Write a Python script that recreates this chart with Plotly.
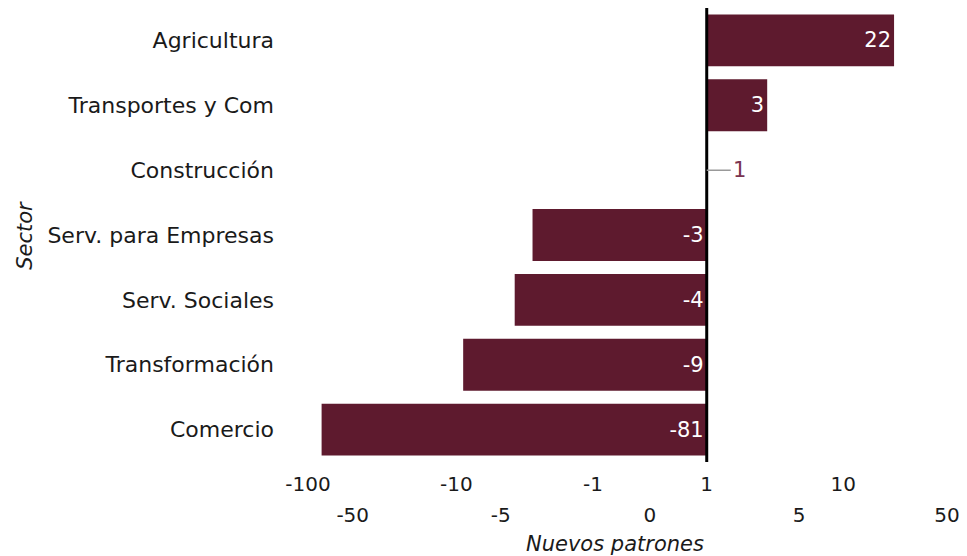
import numpy as np
import plotly.graph_objects as go

sectores = ["Agricultura", "Transportes y Com", "Construcción", "Serv. para Empresas",
            "Serv. Sociales", "Transformación", "Comercio"]
valores = [22, 3, 1, -3, -4, -9, -81]
base_val = 1
ticks_top = [-100, -10, -1, 1, 10]
ticks_bottom = [-50, -5, 0, 5, 50]
rango = [-100, 50]

def f(v):
    return np.arcsinh(np.asarray(v, dtype=float))

BAR = "#5E1A2E"
FONT = "DejaVu Sans"
TXT = "#1A1A1A"

b0 = float(f(base_val))

fig = go.Figure()
for sign, anchor in ((1, "end"), (-1, "start")):
    ys, ls, ts = [], [], []
    for s, v in zip(sectores, valores):
        if v != base_val and (v > 0) == (sign > 0):
            ys.append(s)
            ls.append(float(f(v)) - b0)
            ts.append(str(v))
    fig.add_trace(go.Bar(
        y=ys, x=ls, base=[b0] * len(ys), orientation="h",
        marker=dict(color=BAR, line=dict(width=0)),
        text=ts, textposition="inside", insidetextanchor=anchor,
        textfont=dict(color="white", size=21, family=FONT),
        width=0.8, xaxis="x", yaxis="y",
    ))
# invisible trace for second tick row axis
fig.add_trace(go.Scatter(x=[float(f(rango[0]))], y=[sectores[0]], mode="markers",
                         marker=dict(opacity=0), xaxis="x2", yaxis="y",
                         hoverinfo="skip", showlegend=False))

for s, v in zip(sectores, valores):
    if v == base_val:
        fig.add_annotation(x=float(f(v)), y=s, text=str(v), showarrow=True,
                           ax=24, ay=0, arrowhead=0, arrowwidth=1.5,
                           arrowcolor="#999999", xanchor="left",
                           font=dict(color="#7A3350", size=21, family=FONT))

xr = [float(f(rango[0])), float(f(rango[1]))]
fig.update_layout(
    width=967, height=556, margin=dict(l=300, r=28, t=0, b=102),
    plot_bgcolor="white", paper_bgcolor="white", showlegend=False,
    barmode="overlay",
    font=dict(family=FONT, color=TXT),
    xaxis=dict(range=xr, tickvals=[float(f(t)) for t in ticks_top],
               ticktext=[str(t) for t in ticks_top], showgrid=False, zeroline=False,
               showline=False, ticks="", tickfont=dict(size=20, color=TXT),
               ticklabelstandoff=8, automargin=False),
    xaxis2=dict(range=xr, overlaying="x", side="bottom", anchor="y",
                tickvals=[float(f(t)) for t in ticks_bottom],
                ticktext=[str(t) for t in ticks_bottom], showgrid=False, zeroline=False,
                showline=False, ticks="", tickfont=dict(size=20, color=TXT),
                ticklabelstandoff=39, automargin=False),
    yaxis=dict(categoryorder="array", categoryarray=sectores[::-1], showgrid=False,
               zeroline=False, showline=False, ticks="",
               tickfont=dict(size=22, color=TXT), ticklabelstandoff=33,
               automargin=False),
)
fig.add_shape(type="line", xref="x", yref="paper", x0=b0, x1=b0, y0=0, y1=1.0,
              line=dict(color="black", width=3))
fig.add_annotation(xref="paper", yref="paper", x=-0.4635, y=0.5, textangle=-90,
                   xanchor="left", borderpad=0,
                   text="<i>Sector</i>", showarrow=False,
                   font=dict(size=21, color=TXT, family=FONT))
fig.add_annotation(xref="paper", yref="paper", x=0.48, y=-0.18, yanchor="middle",
                   text="<i>Nuevos patrones</i>", showarrow=False,
                   font=dict(size=21, color=TXT, family=FONT))
fig.write_html("out.html")
